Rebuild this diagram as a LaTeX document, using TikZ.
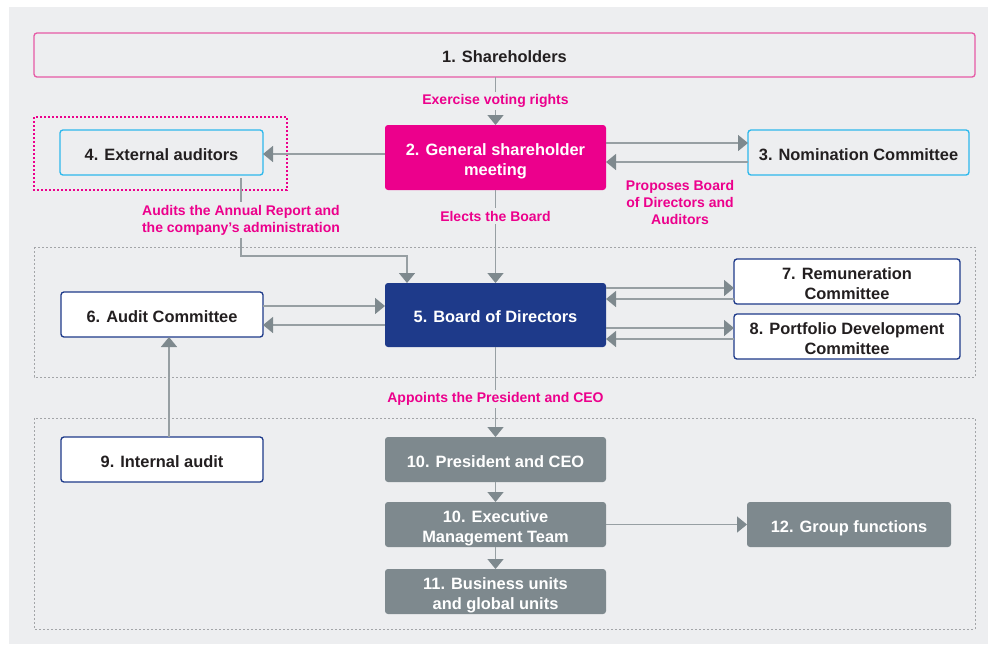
\documentclass[tikz,border=0pt]{standalone}
\usepackage{fontspec}
\setmainfont{Liberation Sans}
\usetikzlibrary{arrows.meta}
\definecolor{bg}{HTML}{EDEEF0}
\definecolor{mag}{HTML}{EC008C}
\definecolor{pinkb}{HTML}{E65AA6}
\definecolor{cyanb}{HTML}{2DB8EC}
\definecolor{navy}{HTML}{1E3A8A}
\definecolor{slate}{HTML}{7E898E}
\definecolor{linec}{HTML}{979FA3}
\definecolor{txt}{HTML}{231F20}
\definecolor{dotc}{HTML}{A3A5A8}
\begin{document}
\begin{tikzpicture}[x=0.75pt,y=-0.75pt,
  box/.style={rectangle, rounded corners=2.25pt, inner sep=0pt, outer sep=0pt, align=center,
    font=\fontsize{12.3}{15}\selectfont\bfseries, text=txt, line width=1pt,
    text height=11.7pt, text depth=0pt},
  two/.style={text height=26.7pt},
  bw/.style={minimum width=#1*0.75pt},
  bh/.style={minimum height=#1*0.75pt},
  lab/.style={font=\fontsize{10.5}{12.75}\selectfont\bfseries, text=mag, align=center, fill=bg, inner sep=2pt},
  arr/.style={draw=linec, line width=1.1pt, -{Triangle[width=12pt,length=7.5pt,color=slate]}},
  pinkdot/.style={draw=mag, line width=0.9pt, dash pattern=on 1.5pt off 1.5pt},
  graydot/.style={draw=dotc, line width=0.75pt, dash pattern=on 1.5pt off 1.5pt}
]
\fill[white] (0,0) rectangle (988,644);
\fill[bg] (9,7) rectangle (988,644);
\useasboundingbox (0,0) rectangle (988,644);

% frames
\draw[pinkdot] (34,117) rectangle (287,190);
\draw[graydot] (34,247) rectangle (975,377);
\draw[graydot] (34,418) rectangle (975,629);

% helper coordinates
\coordinate (h143) at (0,143);
\coordinate (h154) at (0,154);
\coordinate (h162) at (0,162);
\coordinate (h288) at (0,288);
\coordinate (h299) at (0,299);
\coordinate (h306) at (0,306);
\coordinate (h325) at (0,325);
\coordinate (h328) at (0,328);
\coordinate (h339) at (0,339);
\coordinate (v169) at (169,0);

% nodes
\node[box, draw=pinkb, bw=941, bh=44] (sh) at (504.5,55) {1. Shareholders};
\node[box, two, fill=mag, text=white, bw=221, bh=65] (gsm) at (495.5,157.5) {2. General shareholder\\meeting};
\node[box, draw=cyanb, bw=203, bh=45] (ext) at (161.5,152.5) {4. External auditors};
\node[box, draw=cyanb, bw=221, bh=45] (nom) at (858.5,152.5) {3. Nomination Committee};
\node[box, fill=navy, text=white, bw=221, bh=64] (board) at (495.5,315) {5. Board of Directors};
\node[box, draw=navy, fill=white, bw=202, bh=45] (audc) at (162,314.5) {6. Audit Committee};
\node[box, two, draw=navy, fill=white, bw=226, bh=45] (rem) at (847,281.5) {7. Remuneration\\Committee};
\node[box, two, draw=navy, fill=white, bw=226, bh=45] (pdc) at (847,336.5) {8. Portfolio Development\\Committee};
\node[box, draw=navy, fill=white, bw=202, bh=45] (ia) at (162,459.5) {9. Internal audit};
\node[box, fill=slate, text=white, bw=221, bh=45] (ceo) at (495.5,459.5) {10. President and CEO};
\node[box, two, fill=slate, text=white, bw=221, bh=45] (emt) at (495.5,524.5) {10. Executive\\Management Team};
\node[box, two, fill=slate, text=white, bw=221, bh=45] (bu) at (495.5,591.5) {11. Business units\\and global units};
\node[box, fill=slate, text=white, bw=204, bh=45] (gf) at (849,524.5) {12. Group functions};

% connectors
\draw[arr] (gsm.north |- sh.south) -- node[lab] (l1) {Exercise voting rights} (gsm.north);
\draw[arr] (gsm.west |- h154) -- (ext.east |- h154);
\draw[arr] (gsm.east |- h143) -- (nom.west |- h143);
\draw[arr] (nom.west |- h162) -- (gsm.east |- h162);
\node[lab] (l2) at (680,202) {Proposes Board\\of Directors and\\Auditors};
\draw[arr] (gsm.south) -- node[lab, pos=0.28] (l3) {Elects the Board} (board.north);
\coordinate (a1) at (241,178);
\coordinate (a2) at (241,256);
\coordinate (a3) at (407,256);
\draw[arr] (a1) -- (a2) -- (a3) -- (board.north -| a3);
\node[lab] (l4) at (241,220) {Audits the Annual Report and\\the company’s administration};
\draw[arr] (audc.east |- h306) -- (board.west |- h306);
\draw[arr] (board.west |- h325) -- (audc.east |- h325);
\draw[arr] (board.east |- h288) -- (rem.west |- h288);
\draw[arr] (rem.west |- h299) -- (board.east |- h299);
\draw[arr] (board.east |- h328) -- (pdc.west |- h328);
\draw[arr] (pdc.west |- h339) -- (board.east |- h339);
\draw[arr] (board.south) -- node[lab, pos=0.58] (l5) {Appoints the President and CEO} (ceo.north);
\draw[arr] (ia.north -| v169) -- (audc.south -| v169);
\draw[arr] (ceo.south) -- (emt.north);
\draw[arr] (emt.south) -- (bu.north);
\draw[arr] (emt.east) -- (gf.west);
\end{tikzpicture}
\end{document}
